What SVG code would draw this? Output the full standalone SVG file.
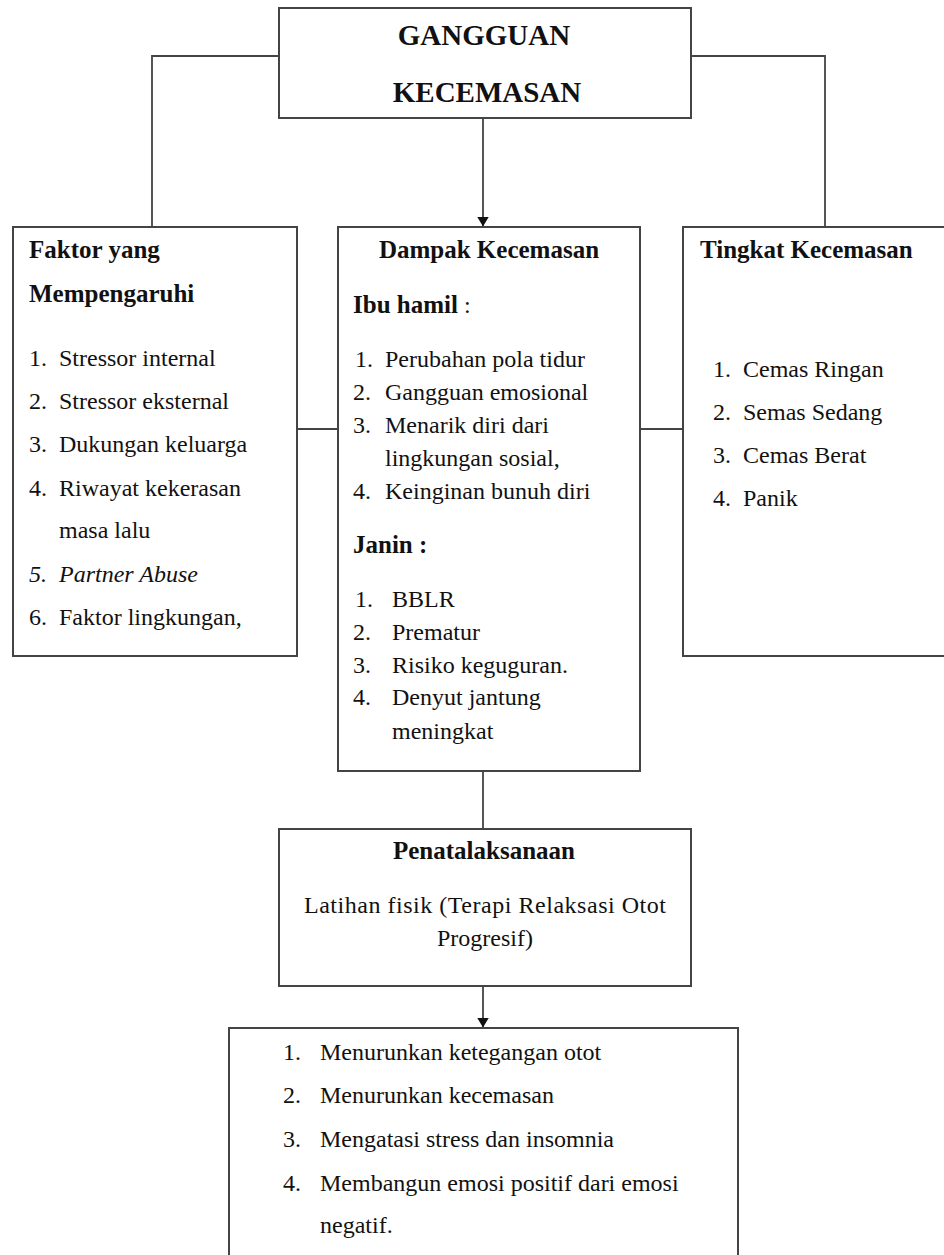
<svg xmlns="http://www.w3.org/2000/svg" width="944" height="1255" viewBox="0 0 944 1255">
<defs>
<style>
.box{fill:#fff;stroke:#444;stroke-width:2}
.ln{fill:none;stroke:#444;stroke-width:1.8}
text{font-family:"Liberation Serif","Times New Roman",serif;font-size:24px;fill:#111}
.b{font-weight:bold;font-size:25px}
.t{font-size:29px;font-weight:bold}
.c{text-anchor:middle}
</style>
<marker id="arr" markerWidth="10" markerHeight="12" refX="9.5" refY="6" orient="auto" markerUnits="userSpaceOnUse">
<path d="M0,0 L10,6 L0,12 z" fill="#111"/>
</marker>
</defs>
<rect width="944" height="1255" fill="#fff"/>
<g id="connectors">
<path class="ln" d="M279,56 H152 V227"/>
<path class="ln" d="M691,56 H825 V227"/>
<path class="ln" d="M483,118 V226" marker-end="url(#arr)"/>
<path class="ln" d="M297,429 H338"/>
<path class="ln" d="M640,429 H683"/>
<path class="ln" d="M483,771 V829"/>
<path class="ln" d="M483,986 V1027" marker-end="url(#arr)"/>
</g>
<g id="node-gangguan">
<rect class="box" x="279" y="8" width="412" height="110"/>
<text class="t c" x="484" y="45">GANGGUAN</text>
<text class="t c" x="487" y="102">KECEMASAN</text>
</g>
<g id="node-faktor">
<rect class="box" x="13" y="227" width="284" height="429"/>
<text class="b" x="29" y="258">Faktor yang</text>
<text class="b" x="29" y="302">Mempengaruhi</text>
<text x="29" y="366">1.</text><text x="59" y="366">Stressor internal</text>
<text x="29" y="409">2.</text><text x="59" y="409">Stressor eksternal</text>
<text x="29" y="452">3.</text><text x="59" y="452">Dukungan keluarga</text>
<text x="29" y="496">4.</text><text x="59" y="496">Riwayat kekerasan</text>
<text x="59" y="538">masa lalu</text>
<text x="29" y="582" font-style="italic">5.</text><text x="59" y="582" font-style="italic">Partner Abuse</text>
<text x="29" y="625">6.</text><text x="59" y="625">Faktor lingkungan,</text>
</g>
<g id="node-dampak">
<rect class="box" x="338" y="227" width="302" height="544"/>
<text class="b c" x="489" y="258">Dampak Kecemasan</text>
<text x="353" y="313"><tspan class="b">Ibu hamil</tspan> :</text>
<text x="355" y="367">1.</text><text x="385" y="367">Perubahan pola tidur</text>
<text x="353" y="400">2.</text><text x="385" y="400">Gangguan emosional</text>
<text x="353" y="433">3.</text><text x="385" y="433">Menarik diri dari</text>
<text x="385" y="466">lingkungan sosial,</text>
<text x="353" y="499">4.</text><text x="385" y="499">Keinginan bunuh diri</text>
<text class="b" x="353" y="553">Janin :</text>
<text x="355" y="607">1.</text><text x="392" y="607">BBLR</text>
<text x="353" y="640">2.</text><text x="392" y="640">Prematur</text>
<text x="353" y="673">3.</text><text x="392" y="673">Risiko keguguran.</text>
<text x="353" y="705">4.</text><text x="392" y="705">Denyut jantung</text>
<text x="392" y="739">meningkat</text>
</g>
<g id="node-tingkat">
<rect class="box" x="683" y="227" width="270" height="429"/>
<text class="b" x="700" y="258">Tingkat Kecemasan</text>
<text x="713" y="377">1.</text><text x="743" y="377">Cemas Ringan</text>
<text x="713" y="420">2.</text><text x="743" y="420">Semas Sedang</text>
<text x="713" y="463">3.</text><text x="743" y="463">Cemas Berat</text>
<text x="713" y="506">4.</text><text x="743" y="506">Panik</text>
</g>
<g id="node-penatalaksanaan">
<rect class="box" x="279" y="829" width="412" height="157"/>
<text class="b c" x="484" y="859">Penatalaksanaan</text>
<text x="304" y="913" textLength="362" lengthAdjust="spacing">Latihan fisik (Terapi Relaksasi Otot</text>
<text class="c" x="485" y="946">Progresif)</text>
</g>
<g id="node-manfaat">
<rect class="box" x="229" y="1028" width="509" height="260"/>
<text x="283" y="1060">1.</text><text x="320" y="1060">Menurunkan ketegangan otot</text>
<text x="283" y="1103">2.</text><text x="320" y="1103">Menurunkan kecemasan</text>
<text x="283" y="1147">3.</text><text x="320" y="1147">Mengatasi stress dan insomnia</text>
<text x="283" y="1191">4.</text><text x="320" y="1191">Membangun emosi positif dari emosi</text>
<text x="320" y="1233">negatif.</text>
</g>
</svg>
